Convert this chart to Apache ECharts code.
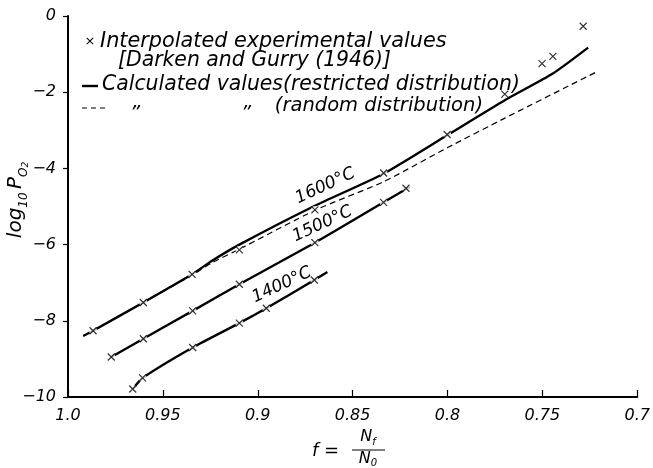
<!DOCTYPE html>
<html><head><meta charset="utf-8">
<script src="https://cdn.jsdelivr.net/npm/echarts@6/dist/echarts.min.js"></script>
<style>html,body{margin:0;padding:0;background:#fff}#c{width:653px;height:468px}</style>
</head><body><div id="c"></div>
<script>
// Interpolated experimental values (Darken and Gurry 1946) : [f, log10 PO2]
const exp1600 = [[0.9868,-8.26],[0.9603,-7.52],[0.9346,-6.78],[0.9097,-6.14],[0.8699,-5.09],[0.8337,-4.12],[0.8002,-3.11],[0.7698,-2.05],[0.7502,-1.25],[0.7445,-1.06],[0.7285,-0.27]];
const exp1500 = [[0.9772,-8.95],[0.9603,-8.47],[0.9343,-7.74],[0.9097,-7.04],[0.8699,-5.95],[0.8337,-4.89],[0.8219,-4.52]];
const exp1400 = [[0.9659,-9.79],[0.9607,-9.50],[0.9343,-8.70],[0.9097,-8.06],[0.8955,-7.67],[0.8702,-6.93]];
// Calculated values (restricted distribution)
const calc1600 = [[0.9920,-8.40],[0.9868,-8.26],[0.9603,-7.52],[0.9346,-6.78],[0.9243,-6.43],[0.9097,-6.00],[0.8699,-4.98],[0.8337,-4.14],[0.8002,-3.13],[0.7698,-2.21],[0.7445,-1.51],[0.7259,-0.83]];
const calc1500 = [[0.9772,-8.95],[0.9603,-8.47],[0.9343,-7.74],[0.9097,-7.04],[0.8699,-5.95],[0.8337,-4.89],[0.8200,-4.49]];
const calc1400 = [[0.9659,-9.79],[0.9607,-9.50],[0.9343,-8.70],[0.9097,-8.06],[0.8955,-7.67],[0.8702,-6.93],[0.8633,-6.72]];
// Calculated values (random distribution), 1600 °C
const rand1600 = [[0.9920,-8.40],[0.9868,-8.26],[0.9603,-7.52],[0.9346,-6.80],[0.9243,-6.48],[0.9097,-6.12],[0.8699,-5.10],[0.8337,-4.35],[0.8002,-3.46],[0.7698,-2.68],[0.7216,-1.47]];
// Curve labels: [text, f, log10 PO2]
const curveLabels = [['1600°C',0.8644,-4.46],['1500°C',0.8659,-5.46],['1400°C',0.8873,-7.06]];
const legendLines = ['Interpolated experimental values','[Darken and Gurry (1946)]','Calculated values(restricted distribution)','(random distribution)'];

const FONT = 'DejaVu Sans';
const chart = echarts.init(document.getElementById('c'), null, {renderer:'canvas'});
const solid = (data) => ({type:'line', data, symbol:'none', smooth:0.2, lineStyle:{color:'#000', width:2.4}, z:2, silent:true});
const halo = (data) => ({type:'scatter', data, symbol:'circle', symbolSize:8, itemStyle:{color:'#fff'}, z:3, silent:true});
const cross = (data) => ({type:'scatter', data, symbol:'path://M0,0L10,10M10,0L0,10', symbolSize:7,
  itemStyle:{color:'none', borderColor:'#000', borderWidth:1.2}, z:4, silent:true});

chart.setOption({
  animation:false,
  backgroundColor:'#fff',
  grid:{left:68, right:10, top:16, bottom:71},
  xAxis:{type:'value', inverse:true, min:0.7, max:1.0, interval:0.05,
    axisLine:{onZero:false, lineStyle:{color:'#000', width:2}},
    axisTick:{inside:true, length:7, lineStyle:{color:'#000', width:1.2}},
    splitLine:{show:false},
    axisLabel:{color:'#000', fontFamily:FONT, fontStyle:'italic', fontSize:16, margin:11,
      formatter:v=>{const s=Math.round(v*100)/100; return s===1?'1.0':String(s);}}},
  yAxis:{type:'value', min:-10, max:0, interval:2,
    axisLine:{show:true, onZero:false, lineStyle:{color:'#000', width:2}},
    axisTick:{show:true, length:5, lineStyle:{color:'#000', width:1.2}},
    splitLine:{show:false},
    axisLabel:{color:'#000', fontFamily:FONT, fontStyle:'italic', fontSize:16, margin:12,
      formatter:v=>String(v).replace('-','\u2212')}},
  series:[
    solid(calc1600), solid(calc1500), solid(calc1400),
    {type:'line', data:rand1600, symbol:'none', smooth:0.2, lineStyle:{color:'#000', width:1.2, type:[6,4]}, z:2, silent:true},
    halo(exp1600), halo(exp1500), halo(exp1400),
    cross(exp1600), cross(exp1500), cross(exp1400)
  ]
});

const LF = (size) => 'italic 300 '+size+'px "'+FONT+'"';
const txt = (text, x, y, size, extra) => Object.assign({type:'text', x, y, silent:true,
  style:Object.assign({text, fill:'#000', font:LF(size), verticalAlign:'middle', align:'left'}, extra||{})});

const g = [];
// legend
g.push(txt('\u00d7', 90, 42, 13, {align:'center'}));
g.push(txt(legendLines[0], 100, 42, 20.8));
g.push(txt(legendLines[1], 118, 61, 20.4));
g.push({type:'line', silent:true, shape:{x1:82,y1:86,x2:98,y2:86}, style:{stroke:'#000', lineWidth:2.4}});
g.push(txt(legendLines[2], 102, 85, 20.4));
g.push({type:'line', silent:true, shape:{x1:82,y1:108,x2:107,y2:108}, style:{stroke:'#000', lineWidth:1.2, lineDash:[5,4]}});
g.push(txt('\u201d', 135, 114, 20, {align:'center'}));
g.push(txt('\u201d', 246, 114, 20, {align:'center'}));
g.push(txt(legendLines[3], 483, 106, 19.5, {align:'right'}));
// curve labels
curveLabels.forEach(([t,fx,fy])=>{
  const p = chart.convertToPixel({gridIndex:0},[fx,fy]);
  g.push({type:'text', x:p[0], y:p[1], rotation:25*Math.PI/180, silent:true,
    style:{text:t, fill:'#000', font:LF(17), align:'center', verticalAlign:'middle'}});
});
// y axis title
g.push({type:'text', x:16, y:200, rotation:Math.PI/2, silent:true,
  style:{text:'{m|log}{s|10} {m|P}{s|O}{t|2}', align:'center', verticalAlign:'middle',
    rich:{m:{font:LF(20), fill:'#000', lineHeight:28},
          s:{font:LF(12), fill:'#000', lineHeight:12, verticalAlign:'bottom'},
          t:{font:LF(9), fill:'#000', lineHeight:8, verticalAlign:'bottom'}}}});
// x axis title
g.push(txt('f =', 312, 451, 18));
g.push({type:'text', x:368, y:437, silent:true,
  style:{text:'{m|N}{s|f}', align:'center', verticalAlign:'middle',
    rich:{m:{font:LF(16), fill:'#000', lineHeight:20},
          s:{font:LF(10), fill:'#000', lineHeight:10, verticalAlign:'bottom'}}}});
g.push({type:'line', silent:true, shape:{x1:352,y1:450,x2:385,y2:450}, style:{stroke:'#000', lineWidth:1}});
g.push({type:'text', x:368, y:459, silent:true,
  style:{text:'{m|N}{s|0}', align:'center', verticalAlign:'middle',
    rich:{m:{font:LF(16), fill:'#000', lineHeight:18},
          s:{font:LF(10), fill:'#000', lineHeight:10, verticalAlign:'bottom'}}}});
chart.setOption({graphic:{elements:g}});
</script>
</body></html>
